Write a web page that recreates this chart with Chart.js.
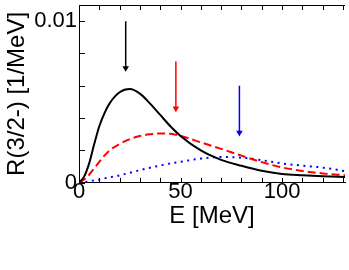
<!DOCTYPE html>
<html>
<head>
<meta charset="utf-8">
<script src="https://cdn.jsdelivr.net/npm/chart.js@4.4.1/dist/chart.umd.min.js"></script>
<style>
  html, body { margin: 0; padding: 0; background: #fff; }
  #myChart { display: block; }
</style>
</head>
<body>
<canvas id="myChart" width="349" height="270"></canvas>
<script>
// energies (MeV) shared by the three curves
const energies = [0, 2.5, 5, 7.5, 10, 12.5, 15, 20, 25, 30, 35, 40, 45, 50, 60, 70, 80, 90, 100, 110, 120, 131];
const blackCurve = [0, 0.00038, 0.0012, 0.0024, 0.0035, 0.0043, 0.0049, 0.0056, 0.0058, 0.00552, 0.0049, 0.0042, 0.0035, 0.0029, 0.002, 0.00142, 0.00105, 0.00074, 0.00055, 0.00047, 0.00041, 0.00036];
const redCurve = [0, 0.0002, 0.0005, 0.0009, 0.0013, 0.00168, 0.002, 0.0024, 0.0027, 0.0029, 0.003, 0.00305, 0.00303, 0.0029, 0.0025, 0.0021, 0.00168, 0.00128, 0.00095, 0.00073, 0.00058, 0.00047];
const blueCurve = [0, 0.00003, 0.0001, 0.00015, 0.0002, 0.00027, 0.00034, 0.00046, 0.00062, 0.00078, 0.00093, 0.00107, 0.0012, 0.0013, 0.0015, 0.0016, 0.00155, 0.0014, 0.0012, 0.00106, 0.00094, 0.00072];

// arrows: position, top and head
const arrowE = [23, 47.7, 79];
const arrowTop = [0.0100, 0.0075, 0.0060];
const arrowHead = [0.0071, 0.0046, 0.0031];
const arrowColors = ["#000000", "#ff0000", "#0000ff"];

const xTicks = [0, 50, 100];
const yTicks = [0, 0.01];

const FONT = "'Liberation Sans', Arial, sans-serif";

function points(ys) {
  return energies.map((e, i) => ({ x: e, y: ys[i] }));
}

const curveSets = [
  { data: points(blackCurve), borderColor: "#000000", borderWidth: 2, borderDash: [] },
  { data: points(redCurve), borderColor: "#ff0000", borderWidth: 2, borderDash: [8, 4] },
  { data: points(blueCurve), borderColor: "#0000ff", borderWidth: 2, borderDash: [2, 4.5] },
].map((d) => ({ ...d, pointRadius: 0, cubicInterpolationMode: "monotone", fill: false }));

const arrowSets = arrowE.map((e, i) => ({
  data: [{ x: e, y: arrowTop[i] }, { x: e, y: arrowHead[i] }],
  borderColor: arrowColors[i],
  backgroundColor: arrowColors[i],
  borderWidth: 1.5,
  pointRadius: [0, 3.8],
  pointStyle: "triangle",
  pointRotation: 180,
  pointBorderWidth: 0,
}));

/*
 * Frame with inward ticks (top, bottom, left)
 */
const frame = {
  id: "frame",
  afterDraw(chart) {
    const { ctx, chartArea, scales } = chart;
    const x = scales.x, y = scales.y;
    ctx.save();
    ctx.strokeStyle = "#000";
    ctx.lineWidth = 1;
    ctx.beginPath();
    ctx.moveTo(chartArea.left, chartArea.top + 0.5);
    ctx.lineTo(chartArea.right, chartArea.top + 0.5);
    for (let v = 0; v <= x.max; v += 10) {
      const px = Math.round(x.getPixelForValue(v)) + 0.5;
      ctx.moveTo(px, chartArea.bottom);
      ctx.lineTo(px, chartArea.bottom - 5);
      ctx.moveTo(px, chartArea.top);
      ctx.lineTo(px, chartArea.top + 5);
    }
    for (let v = 0; v <= y.max + 1e-9; v += 0.002) {
      const py = Math.round(y.getPixelForValue(v)) + 0.5;
      ctx.moveTo(chartArea.left, py);
      ctx.lineTo(chartArea.left + 6, py);
    }
    ctx.stroke();
    ctx.restore();
  },
};

const config = {
  type: "line",
  data: { datasets: [...curveSets, ...arrowSets] },
  options: {
    responsive: false,
    animation: false,
    layout: { padding: { left: 0, right: 0, top: 5, bottom: 39 } },
    plugins: { legend: { display: false }, tooltip: { enabled: false } },
    scales: {
      x: {
        type: "linear",
        min: 0,
        max: 131,
        grid: { display: false, drawTicks: false },
        border: { display: true, color: "#000", width: 1 },
        afterBuildTicks: (scale) => { scale.ticks = xTicks.map((v) => ({ value: v })); },
        ticks: {
          autoSkip: false,
          maxRotation: 0,
          padding: -4,
          color: "#000",
          font: { family: FONT, size: 22 },
        },
        title: {
          display: true,
          text: "E [MeV]",
          color: "#000",
          font: { family: FONT, size: 24 },
          padding: { top: 1, bottom: 0 },
        },
      },
      y: {
        min: 0,
        max: 0.011,
        grid: { display: false, drawTicks: false },
        border: { display: true, color: "#000", width: 1 },
        afterBuildTicks: (scale) => { scale.ticks = yTicks.map((v) => ({ value: v })); },
        afterFit: (scale) => {
          scale.width = 79;
          scale.paddingTop = 0;
          scale.paddingBottom = 0;
        },
        ticks: {
          padding: 2,
          color: "#000",
          font: { family: FONT, size: 22 },
          callback: (v) => (v === 0 ? "0" : "0.01"),
        },
        title: {
          display: true,
          text: "R(3/2-) [1/MeV]",
          color: "#000",
          font: { family: FONT, size: 24 },
          padding: { top: 3, bottom: 0 },
        },
      },
    },
  },
  plugins: [frame],
};

new Chart(document.getElementById("myChart"), config);
</script>
</body>
</html>
